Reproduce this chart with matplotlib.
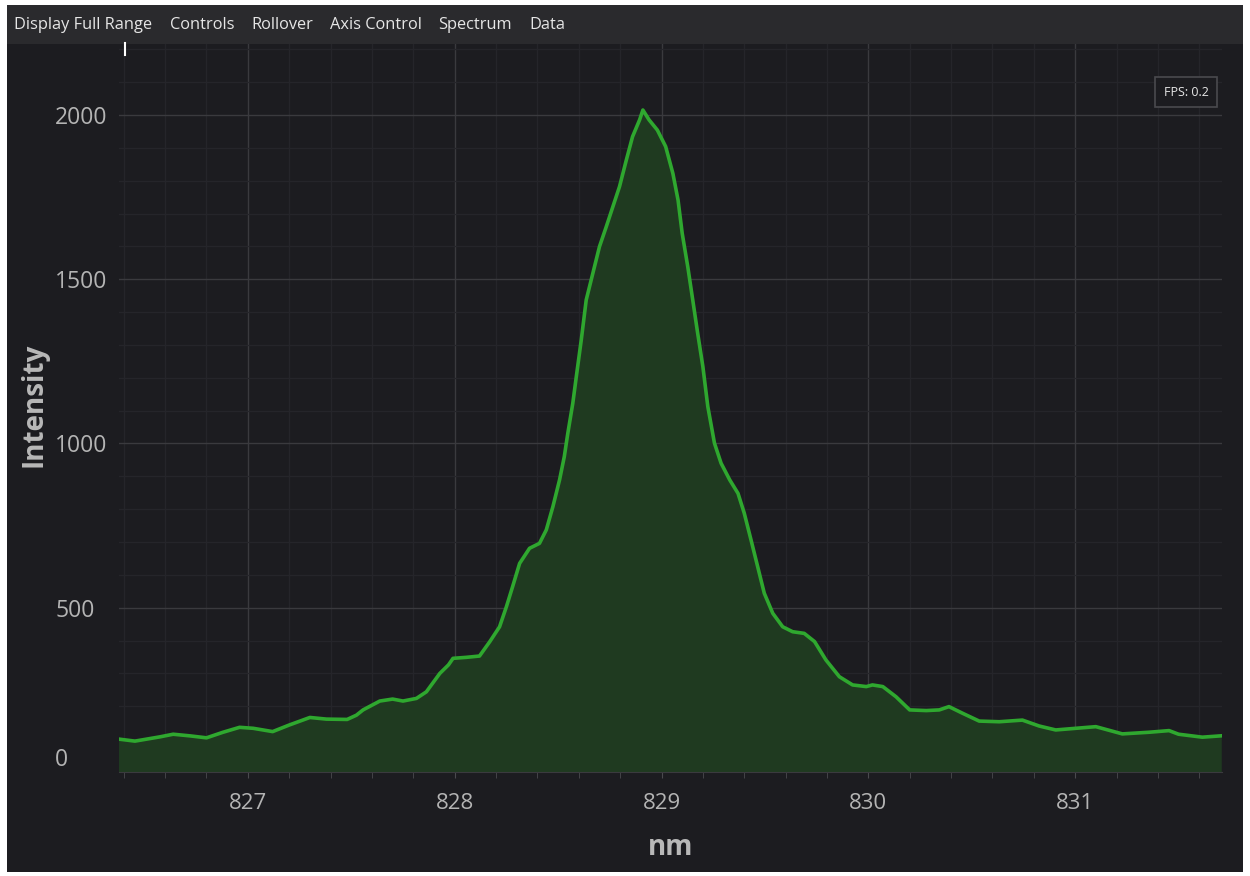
import matplotlib
matplotlib.use('Agg')
import matplotlib.pyplot as plt
import matplotlib.transforms as mtransforms
from matplotlib.ticker import MultipleLocator
from matplotlib.patches import Rectangle

# 光谱数据
wavelength = [
    826.378, 826.454, 826.575, 826.639, 826.720, 826.800, 826.880, 826.960,
    827.026, 827.120, 827.200, 827.300, 827.380, 827.480, 827.525, 827.557,
    827.638, 827.700, 827.750, 827.815, 827.863, 827.928, 827.970, 827.992,
    828.056, 828.120, 828.170, 828.217, 828.250, 828.280, 828.314, 828.362,
    828.410, 828.443, 828.475, 828.507, 828.530, 828.547, 828.571, 828.588,
    828.612, 828.636, 828.668, 828.700, 828.733, 828.765, 828.797, 828.830,
    828.860, 828.894, 828.910, 828.940, 828.980, 829.020, 829.055, 829.080,
    829.100, 829.127, 829.151, 829.175, 829.200, 829.224, 829.256, 829.288,
    829.330, 829.370, 829.400, 829.433, 829.465, 829.497, 829.538, 829.586,
    829.634, 829.690, 829.740, 829.795, 829.860, 829.924, 829.990, 830.020,
    830.070, 830.134, 830.200, 830.280, 830.343, 830.390, 830.455, 830.536,
    830.633, 830.745, 830.826, 830.906, 831.003, 831.100, 831.228, 831.357,
    831.454, 831.500, 831.615, 831.703,
]
intensity = [
    100, 94, 107, 115, 110, 104, 121, 136,
    133, 123, 143, 166, 161, 160, 173, 189,
    216, 222, 216, 224, 244, 300, 326, 346,
    349, 353, 397, 442, 503, 564, 635, 681,
    696, 737, 808, 889, 960, 1031, 1122, 1203,
    1315, 1437, 1518, 1599, 1660, 1721, 1782, 1863,
    1934, 1985, 2015, 1985, 1954, 1904, 1822, 1741,
    1640, 1538, 1437, 1335, 1234, 1112, 1001, 940,
    889, 848, 788, 706, 625, 544, 483, 442,
    427, 422, 397, 341, 290, 265, 260, 265,
    260, 229, 189, 187, 189, 199, 179, 155,
    153, 158, 140, 128, 133, 138, 116, 121,
    126, 115, 106, 110,
]
menu_items = ['Display Full Range', 'Controls', 'Rollover', 'Axis Control', 'Spectrum', 'Data']
menu_x = [14, 170, 251, 330, 438, 529]
x_ticks = [827, 828, 829, 830, 831]
y_ticks = [0, 500, 1000, 1500, 2000]

bg = '#1c1c20'
font = ['Open Sans', 'DejaVu Sans']
plt.rcParams['font.family'] = font

fig = plt.figure(figsize=(12.5, 8.76), dpi=100)
fig.patch.set_facecolor('white')
W, H = 1250, 876

# 深色背景
fig.add_artist(Rectangle((7 / W, 1 - 872 / H), 1236 / W, 867 / H,
                         transform=fig.transFigure, facecolor=bg, edgecolor='none', zorder=0))
# 菜单栏
fig.add_artist(Rectangle((7 / W, 1 - 44 / H), 1236 / W, 39 / H,
                         transform=fig.transFigure, facecolor='#2a2a2d', edgecolor='none', zorder=1))
for name, px in zip(menu_items, menu_x):
    fig.text(px / W, 1 - 25 / H, name, color='#e6e6e6', fontsize=11.8,
             ha='left', va='center', zorder=2)

ax = fig.add_axes([119 / W, 1 - 772 / H, 1103 / W, 728 / H])
ax.set_facecolor(bg)
ax.fill_between(wavelength, intensity, 0, color='#1f3a20', zorder=2)
ax.plot(wavelength, intensity, color='#2fa82f', linewidth=2.6, zorder=3)

ax.set_xlim(826.377, 831.71)
ax.set_ylim(0, 2216)
ax.set_xticks(x_ticks)
ax.set_yticks(y_ticks)
ax.xaxis.set_minor_locator(MultipleLocator(0.2))
ax.yaxis.set_minor_locator(MultipleLocator(100))
ax.grid(which='major', color='#3a3a3e', linewidth=1.0, zorder=1)
ax.grid(which='minor', color='#25252a', linewidth=0.9, zorder=1)
ax.set_axisbelow(True)

for s in ['top', 'right', 'left']:
    ax.spines[s].set_visible(False)
ax.spines['bottom'].set_color('#3a3a3e')

ax.tick_params(axis='x', which='both', colors='#4a4a4e', length=4, labelsize=16,
               labelcolor='#b4b4b4', pad=11)
ax.tick_params(axis='y', which='both', length=0, labelsize=16.5, labelcolor='#b4b4b4', pad=46)
ylabels = ax.get_yticklabels()
for lab in ylabels:
    lab.set_ha('left')
# 0 标签上移到轴线上方
ylabels[0].set_transform(ylabels[0].get_transform() +
                         mtransforms.ScaledTranslation(0, 15 / 100, fig.dpi_scale_trans))

ax.set_xlabel('nm', fontsize=20, fontweight='bold', color='#b8b8b8')
ax.xaxis.set_label_coords(0.5, -0.084)
ax.set_ylabel('Intensity', fontsize=20, fontweight='bold', color='#b8b8b8')
ax.yaxis.set_label_coords(-0.064, 0.504)

# FPS 标签
ax.text(1186 / W, 1 - 92 / H, 'FPS: 0.2', transform=fig.transFigure, fontsize=9,
        color='#e6e6e6', ha='center', va='center', zorder=5,
        bbox=dict(boxstyle='square,pad=0.65', facecolor=bg, edgecolor='#4a4a4e', linewidth=1.2))

# 光标
fig.add_artist(plt.Line2D([125 / W, 125 / W], [1 - 43 / H, 1 - 55 / H],
                          transform=fig.transFigure, color='white', linewidth=1.5, zorder=3))

plt.savefig('out.png', dpi=100, facecolor=fig.get_facecolor())
